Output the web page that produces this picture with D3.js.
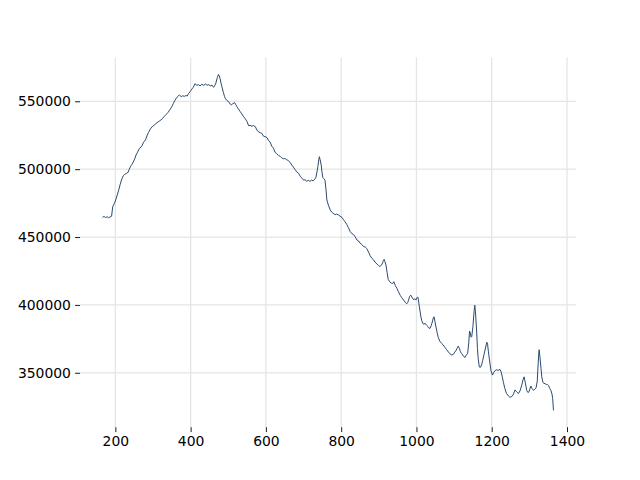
<!DOCTYPE html>
<html>
<head>
<meta charset="utf-8">
<script src="https://cdn.jsdelivr.net/npm/d3@7"></script>
<style>
  html, body { margin: 0; padding: 0; background: #ffffff; }
  svg { display: block; }
  text { font-family: "DejaVu Sans", sans-serif; font-size: 13.9px; fill: #000; }
</style>
</head>
<body>
<svg id="chart" width="640" height="480"></svg>
<script>
const xValues = [166,170,174,178,182,186,190,193,197,200,205,209,213,218,222,225,229,234,237,240,244,249,252,255,259,264,268,271,275,280,284,288,293,298,304,311,318,325,330,335,340,346,350,354,358,362,366,370,375,379,383,387,391,395,399,403,407,412,416,421,425,430,435,439,444,448,452,457,461,464,467,471,474,476,478,481,483,487,490,492,496,501,505,508,512,517,520,523,527,532,536,541,545,550,554,558,563,567,572,576,580,585,589,594,598,603,607,611,616,620,624,629,633,638,642,646,650,655,660,664,669,673,678,682,687,691,696,700,704,708,713,717,721,726,730,733,736,738,740,742,744,747,749,751,754,757,760,762,766,771,775,779,784,788,793,797,802,806,810,815,819,824,828,833,837,842,846,850,855,859,864,868,873,877,882,886,890,895,899,903,907,910,912,914,916,919,922,925,929,934,937,940,944,948,952,957,961,966,970,974,977,979,982,985,988,992,996,999,1002,1004,1006,1009,1012,1014,1017,1020,1023,1027,1030,1032,1036,1039,1041,1043,1045,1047,1049,1052,1055,1058,1062,1067,1071,1076,1080,1085,1089,1094,1098,1102,1106,1109,1111,1114,1117,1120,1125,1129,1132,1136,1139,1141,1143,1145,1147,1150,1153,1155,1157,1160,1162,1164,1167,1170,1173,1176,1180,1184,1187,1189,1191,1194,1198,1202,1205,1209,1213,1217,1222,1225,1228,1231,1235,1239,1244,1248,1253,1257,1262,1266,1271,1275,1280,1283,1286,1289,1293,1296,1299,1302,1304,1307,1311,1315,1318,1321,1323,1325,1326,1328,1331,1333,1336,1339,1342,1345,1348,1351,1354,1357,1360,1362,1364];
const yValues = [464500,465200,464300,465000,464200,464800,465300,472300,474500,476500,481000,484600,489000,493300,495500,496200,496800,497700,500000,501800,503500,506000,508000,510400,512500,515400,516200,517300,519800,521500,524500,527000,529600,531300,532600,534300,535600,537200,538900,540300,541800,544200,546000,548300,550500,552200,553600,554700,553400,554100,553600,554200,553900,555800,557200,558900,560300,563000,561800,562200,561400,562500,561700,562700,561800,562300,561300,561900,560300,561500,563300,567500,569800,568800,567000,563200,560800,556500,553600,552200,550700,549700,548000,547300,548200,549000,547500,546000,544400,542300,540700,538600,537200,535000,532000,532300,531600,532100,531300,528800,527600,526800,526400,524200,524000,523200,521000,520000,516800,515500,512600,511200,510200,509400,508400,507600,507900,507000,506300,505000,503000,501500,499500,498000,496900,494800,493300,491900,492200,491200,491700,491000,491900,491400,492600,494000,498500,501800,506000,509200,507000,503000,498000,494000,493000,491800,484000,477300,473500,469900,468300,467400,466500,466900,466200,465400,464500,462800,461300,459200,457100,454000,452600,451800,450200,447800,447200,445600,444500,443100,442600,441500,438800,436200,434200,433200,431500,430200,429000,428300,429300,431000,432600,433600,432000,429400,424000,418800,417000,415900,415800,417100,414200,412200,409800,407000,405300,403500,402000,400800,401900,403500,406300,407200,405700,404000,404400,403700,405600,405600,402000,396200,391000,388500,386200,385800,386500,385000,384200,383200,382700,384600,386500,388200,390800,391200,387800,383700,379600,376000,373300,371600,370500,368700,367100,365300,364000,363100,363500,365300,366800,368700,369700,368000,365500,364200,362200,361300,362800,364300,372000,380800,379400,376200,376800,384000,395000,399800,394000,380000,368000,360500,354300,354000,355800,359000,364000,369000,372500,371000,366000,359500,351500,348300,350100,351700,352200,351800,352400,350700,347000,343000,338300,335000,333000,332000,332400,333800,337400,336000,334700,336600,341000,344800,347000,343000,337000,335500,336000,338600,340200,338500,337000,338200,339000,344000,355000,364500,367000,362000,353000,347000,343000,342200,342000,341300,341500,340600,338500,337200,334500,331000,322300];
const xTicks = [200, 400, 600, 800, 1000, 1200, 1400];
const yTicks = [350000, 400000, 450000, 500000, 550000];

const W = 640, H = 480;
const plot = { left: 80, right: 576, top: 57.6, bottom: 427.2 };

const data = xValues.map((x, i) => ({ x, y: yValues[i] }));
const [x0, x1] = d3.extent(xValues);
const [y0, y1] = d3.extent(yValues);
const mx = (x1 - x0) * 0.05, my = (y1 - y0) * 0.05;

const x = d3.scaleLinear().domain([x0 - mx, x1 + mx]).range([plot.left, plot.right]);
const y = d3.scaleLinear().domain([y0 - my, y1 + my]).range([plot.bottom, plot.top]);

const svg = d3.select("#chart");

// grid
const grid = svg.append("g");
grid.selectAll("line.vx").data(xTicks).enter().append("line")
  .attr("x1", d => x(d)).attr("x2", d => x(d))
  .attr("y1", plot.top).attr("y2", plot.bottom)
  .attr("stroke", "#e5e5e5").attr("stroke-width", 1.3);
grid.selectAll("line.hy").data(yTicks).enter().append("line")
  .attr("x1", plot.left).attr("x2", plot.right)
  .attr("y1", d => y(d)).attr("y2", d => y(d))
  .attr("stroke", "#e5e5e5").attr("stroke-width", 1.3);

// axes
const xAxis = d3.axisBottom(x).tickValues(xTicks).tickSize(4.9).tickPadding(4.2).tickFormat(d3.format("d"));
const yAxis = d3.axisLeft(y).tickValues(yTicks).tickSize(4.9).tickPadding(4.2).tickFormat(d3.format("d"));

const gx = svg.append("g").attr("transform", `translate(0,${plot.bottom})`).call(xAxis);
const gy = svg.append("g").attr("transform", `translate(${plot.left},0)`).call(yAxis);
[gx, gy].forEach(g => {
  g.select(".domain").remove();
  g.selectAll(".tick line").attr("stroke", "#000").attr("stroke-width", 0.9);
  g.selectAll(".tick text").attr("font-family", "DejaVu Sans, sans-serif").attr("font-size", "13.9px").attr("fill", "#000");
});

// line
const line = d3.line().x(d => x(d.x)).y(d => y(d.y));
svg.append("path").datum(data)
  .attr("d", line)
  .attr("fill", "none")
  .attr("stroke", "#2b4a6e")
  .attr("stroke-width", 1)
  .attr("stroke-linejoin", "round");
</script>
</body>
</html>
